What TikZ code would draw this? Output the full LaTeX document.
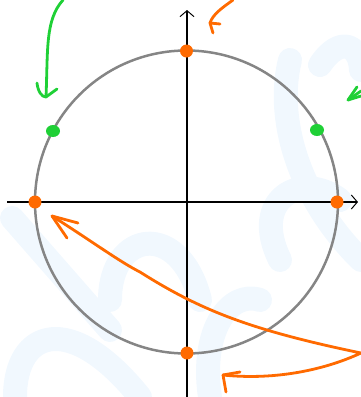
\documentclass[tikz,border=0pt]{standalone}
\usetikzlibrary{arrows.meta,shapes.geometric}
\definecolor{wm}{HTML}{F1F8FE}
\definecolor{orng}{HTML}{FF6A00}
\definecolor{grn}{HTML}{1FD036}
\definecolor{circgray}{HTML}{858585}
\tikzset{
  axis/.style={line width=1.2pt, black, -{Straight Barb[length=6pt,width=14pt,line width=1pt]}},
  odot/.style={circle, fill=orng, inner sep=0pt, minimum size=13pt},
  gdot/.style={ellipse, fill=grn, inner sep=0pt, minimum width=14pt, minimum height=12pt},
  ostroke/.style={orng, line width=2.8pt, line cap=round, line join=round},
  gstroke/.style={grn, line width=2.8pt, line cap=round, line join=round},
  wmstroke/.style={wm, line width=24pt, line cap=round, line join=round},
}
\begin{document}
\begin{tikzpicture}[x=1pt,y=-1pt]
\useasboundingbox (0,0) rectangle (361,397);
% faint watermark
\draw[wmstroke] (12,218) -- (110,330);
\draw[wmstroke] (15,397) .. controls (15,330) and (70,310) .. (140,397);
\draw[wmstroke] (110,300) .. controls (110,230) and (180,220) .. (200,300);
\draw[wmstroke] (210,397) .. controls (200,330) and (230,290) .. (260,300);
\draw[wmstroke] (290,60) .. controls (275,120) and (300,200) .. (361,260);
\draw[wmstroke] (320,65) .. controls (340,35) and (360,45) .. (361,70);
\draw[wmstroke] (280,260) .. controls (250,200) and (300,170) .. (340,200);
% axes
\coordinate (xs) at (7,202);
\coordinate (xe) at (358,202);
\coordinate (ys) at (187,397);
\coordinate (ye) at (187,10);
\draw[axis] (xs) -- (xe);
\draw[axis] (ys) -- (ye);
% circle
\coordinate (O) at (186.5,202);
\draw[circgray, line width=2.5pt] (O) circle[radius=151.5];
% dots
\node[odot] (p0) at (337,202) {};
\node[odot] (p90) at (186.5,51) {};
\node[odot] (p180) at (35,202) {};
\node[odot] (p270) at (187,353) {};
\node[gdot] (g150) at (53,131) {};
\node[gdot] (g30) at (317,130) {};
% green arrow top-left
\coordinate (ga0) at (63,0);
\coordinate (ga1) at (46,97);
\draw[gstroke] (ga0) .. controls (45,20) and (48,50) .. (ga1);
\draw[gstroke] (37,83) .. controls (38,92) and (42,97) .. (ga1) -- (57,89);
% green arrow right (cut)
\coordinate (gb1) at (348,100);
\draw[gstroke] (361,96) -- (gb1) -- (357,87);
\draw[gstroke] (gb1) -- (361,91);
% orange arrow top
\coordinate (oa0) at (233,0);
\coordinate (oa1) at (210,23);
\draw[ostroke] (oa0) .. controls (222,8) and (213,14) .. (oa1);
\draw[ostroke] (213,33) -- (oa1) -- (220,24);
% orange big arrow
\coordinate (ob1) at (52,216);
\coordinate (ob2) at (361,353);
\coordinate (ob3) at (223,375);
\draw[ostroke] (ob1) .. controls (90,240) and (120,262) .. (140,272)
  .. controls (200,310) and (250,330) .. (ob2)
  .. controls (320,372) and (270,380) .. (ob3);
\draw[ostroke] (67,238) -- (ob1) -- (78,223);
\draw[ostroke] (240,372) -- (ob3) -- (226,392);
\end{tikzpicture}
\end{document}
